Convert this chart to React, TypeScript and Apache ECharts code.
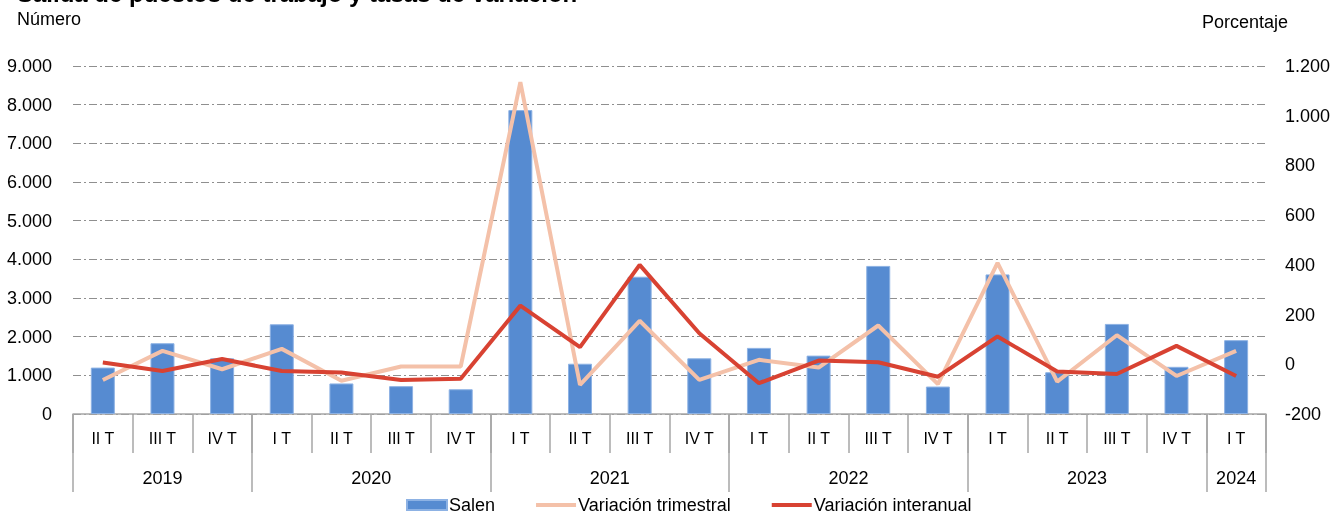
import React, { useEffect, useRef } from "react";
import * as echarts from "echarts";

const quarterLabels = ["II T", "III T", "IV T", "I T", "II T", "III T", "IV T", "I T", "II T", "III T", "IV T", "I T", "II T", "III T", "IV T", "I T", "II T", "III T", "IV T", "I T"];
const yearLabels = ["2019", "2020", "2021", "2022", "2023", "2024"];
const yearQuarterCounts = [3, 4, 4, 4, 4, 1];

const salen = [1200, 1830, 1440, 2320, 790, 720, 640, 7860, 1300, 3550, 1440, 1710, 1510, 3830, 710, 3610, 1080, 2330, 1220, 1910];
const variacionTrimestral = [-63, 54, -20, 62, -66, -9, -9, 1135, -83, 175, -63, 18, -13, 156, -80, 408, -70, 117, -47, 54];
const variacionInteranual = [7, -27, 21, -27, -33, -63, -58, 236, 69, 400, 125, -76, 15, 8, -50, 112, -29, -39, 74, -47];

const leftTicks = { min: 0, max: 9000, interval: 1000 };
const rightTicks = { min: -200, max: 1200, interval: 200 };

const FONT = "'Liberation Sans', Arial, sans-serif";
const LINE_ICON = "path://M0,0 L40,0 L40,4 L0,4 Z";

function fmt(v: number): string {
  const s = Math.abs(v).toString();
  const withSep = s.replace(/\B(?=(\d{3})+(?!\d))/g, ".");
  return (v < 0 ? "-" : "") + withSep;
}

export default function App() {
  const ref = useRef<HTMLDivElement>(null);

  useEffect(() => {
    if (!ref.current) return;
    const chart = echarts.init(ref.current, null, { renderer: "svg" });

    // half-quarter axis for the year row
    const totalQ = yearQuarterCounts.reduce((a, b) => a + b, 0);
    const yearAxisData = Array.from({ length: 2 * totalQ + 1 }, (_, i) => String(i));
    const boundarySet = new Set<number>([0]);
    const centerMap: Record<number, string> = {};
    let start = 0;
    yearQuarterCounts.forEach((c, i) => {
      centerMap[2 * start + c] = yearLabels[i];
      start += c;
      boundarySet.add(2 * start);
    });

    const gridColor = "#8f8f8f";
    const axisGrey = "#a6a6a6";

    chart.setOption({
      animation: false,
      textStyle: { fontFamily: FONT },
      grid: { left: 73, right: 65, top: 66, bottom: 99, containLabel: false },
      legend: {
        left: 401,
        top: 491,
        itemGap: 41,
        itemWidth: 40,
        itemHeight: 10,
        symbolKeepAspect: true,
        textStyle: { fontSize: 18, color: "#000", fontFamily: FONT, padding: [0, 0, 0, -3] },
        data: [
          { name: "Salen", icon: "rect" },
          { name: "Variación trimestral", icon: LINE_ICON },
          { name: "Variación interanual", icon: LINE_ICON },
        ],
      },
      xAxis: [
        {
          type: "category",
          data: quarterLabels,
          boundaryGap: true,
          position: "bottom",
          axisLine: { show: true, onZero: false, lineStyle: { color: axisGrey, width: 1.5 } },
          axisTick: { show: true, length: 39, interval: 0, lineStyle: { color: axisGrey, width: 1.5 } },
          axisLabel: { interval: 0, margin: 16, fontSize: 16, color: "#000", fontFamily: FONT },
          splitLine: { show: false },
        },
        {
          type: "category",
          data: yearAxisData,
          boundaryGap: false,
          position: "bottom",
          offset: 0,
          axisLine: { show: false, onZero: false },
          axisTick: {
            show: true,
            length: 78,
            interval: (index: number) => boundarySet.has(index),
            lineStyle: { color: axisGrey, width: 1.5 },
          },
          axisLabel: {
            interval: (index: number) => centerMap[index] !== undefined,
            formatter: (_v: string, index: number) => centerMap[index] ?? "",
            margin: 55,
            fontSize: 18,
            color: "#000",
            fontFamily: FONT,
          },
          splitLine: { show: false },
        },
      ],
      yAxis: [
        {
          type: "value",
          position: "left",
          min: leftTicks.min,
          max: leftTicks.max,
          interval: leftTicks.interval,
          axisLine: { show: false },
          axisTick: { show: false },
          axisLabel: { margin: 21, fontSize: 18, color: "#000", fontFamily: FONT, formatter: (v: number) => fmt(v) },
          splitLine: { show: true, lineStyle: { color: gridColor, width: 1.2, type: [8, 3, 2, 3] } },
        },
        {
          type: "value",
          position: "right",
          min: rightTicks.min,
          max: rightTicks.max,
          interval: rightTicks.interval,
          axisLine: { show: false },
          axisTick: { show: false },
          axisLabel: { margin: 19, fontSize: 18, color: "#000", fontFamily: FONT, formatter: (v: number) => fmt(v) },
          splitLine: { show: false },
        },
      ],
      series: [
        {
          name: "Salen",
          type: "bar",
          xAxisIndex: 0,
          yAxisIndex: 0,
          data: salen,
          barWidth: 24,
          itemStyle: { color: "#568BD1", borderColor: "#8DB2E4", borderWidth: 1 },
        },
        {
          name: "Variación trimestral",
          type: "line",
          xAxisIndex: 0,
          yAxisIndex: 1,
          data: variacionTrimestral,
          symbol: "none",
          lineStyle: { color: "#F4C1A9", width: 4 },
          itemStyle: { color: "#F4C1A9" },
        },
        {
          name: "Variación interanual",
          type: "line",
          xAxisIndex: 0,
          yAxisIndex: 1,
          data: variacionInteranual,
          symbol: "none",
          lineStyle: { color: "#D84232", width: 4 },
          itemStyle: { color: "#D84232" },
        },
      ],
      graphic: [
        {
          type: "text",
          left: 17,
          top: -19,
          style: { text: "Salida de puestos de trabajo y tasas de variación", font: `bold 24px ${FONT}`, fill: "#000" },
        },
        {
          type: "text",
          left: 17,
          top: 10,
          style: { text: "Número", font: `18px ${FONT}`, fill: "#000" },
        },
        {
          type: "text",
          left: 1202,
          top: 13,
          style: { text: "Porcentaje", font: `18px ${FONT}`, fill: "#000" },
        },
      ],
    });

    return () => chart.dispose();
  }, []);

  return (
    <div
      ref={ref}
      style={{ position: "fixed", left: 0, top: 0, width: 1333, height: 513 }}
    />
  );
}
